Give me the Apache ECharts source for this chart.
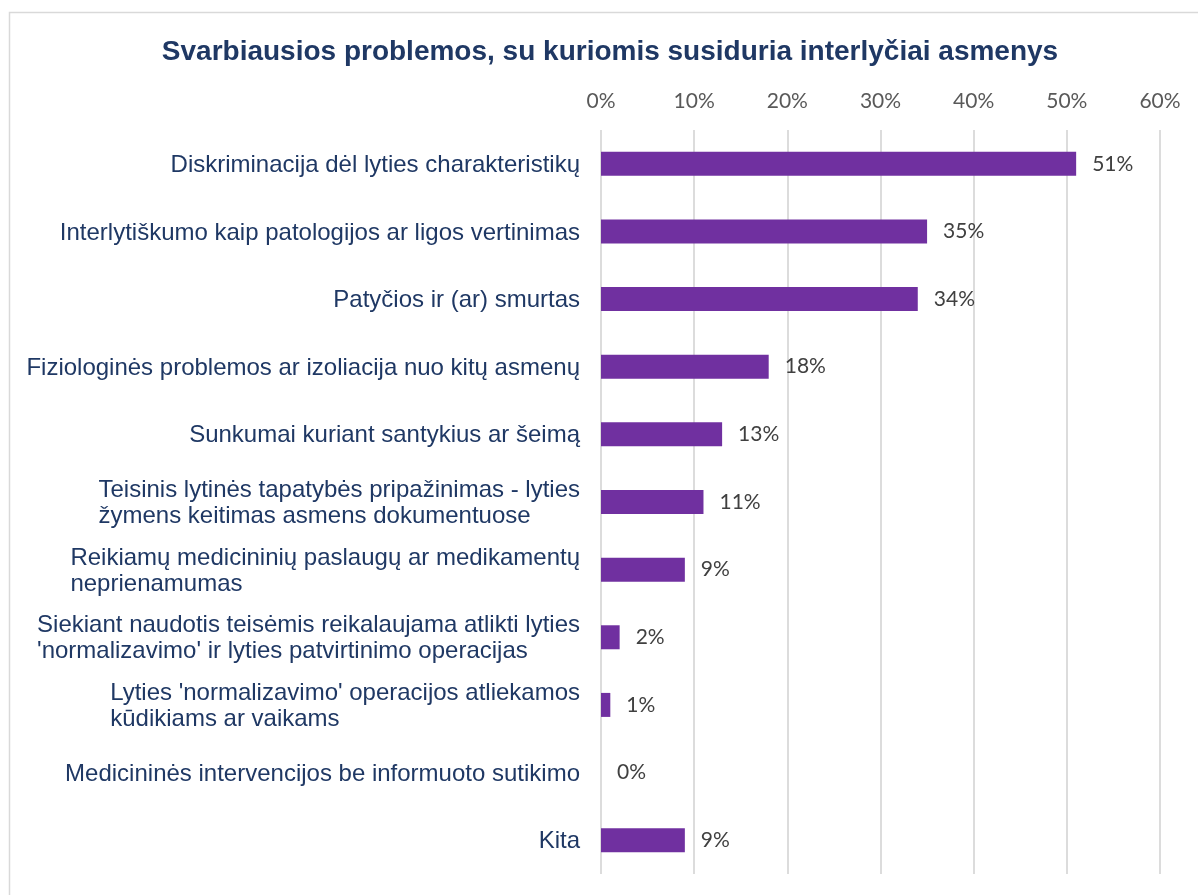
<!DOCTYPE html>
<html>
<head>
<meta charset="utf-8">
<script src="https://cdn.jsdelivr.net/npm/echarts@6/dist/echarts.min.js"></script>
<style>
  html, body { margin: 0; padding: 0; background: #fff; }
  #main { width: 1198px; height: 895px; }
</style>
</head>
<body>
<div id="main"></div>
<script>
// duomenys
var categories = [
    'Diskriminacija dėl lyties charakteristikų',
    'Interlytiškumo kaip patologijos ar ligos vertinimas',
    'Patyčios ir (ar) smurtas',
    'Fiziologinės problemos ar izoliacija nuo kitų asmenų',
    'Sunkumai kuriant santykius ar šeimą',
    'Teisinis lytinės tapatybės pripažinimas - lyties\nžymens keitimas asmens dokumentuose',
    'Reikiamų medicininių paslaugų ar medikamentų\nneprienamumas',
    'Siekiant naudotis teisėmis reikalaujama atlikti lyties\n\'normalizavimo\' ir lyties patvirtinimo operacijas',
    'Lyties \'normalizavimo\' operacijos atliekamos\nkūdikiams ar vaikams',
    'Medicininės intervencijos be informuoto sutikimo',
    'Kita'
];
var values = [51, 35, 34, 18, 13, 11, 9, 2, 1, 0, 9];
var xTicks = [0, 10, 20, 30, 40, 50, 60];

var myChart = echarts.init(document.getElementById('main'));

var option = {
    backgroundColor: '#fff',
    animation: false,
    title: {
        text: 'Svarbiausios problemos, su kuriomis susiduria interlyčiai asmenys',
        left: 605,
        textAlign: 'center',
        top: 33,
        textStyle: {
            color: '#1F3864',
            fontFamily: 'Liberation Sans',
            fontWeight: 'bold',
            fontSize: 28
        }
    },
    // rėmelis aplink
    graphic: [{
        type: 'rect',
        shape: { x: 9.5, y: 12.5, width: 1300, height: 1000 },
        style: { fill: 'none', stroke: '#d9d9d9', lineWidth: 1.5 },
        silent: true
    }],
    grid: {
        left: 601,
        right: 38,
        top: 130,
        bottom: 21
    },
    xAxis: {
        type: 'value',
        position: 'top',
        min: xTicks[0],
        max: xTicks[xTicks.length - 1],
        interval: 10,
        axisLine: { show: false },
        axisTick: { show: false },
        splitLine: {
            show: true,
            lineStyle: { color: '#dcdcdc', width: 2 }
        },
        axisLabel: {
            color: '#595959',
            fontFamily: 'Lato',
            fontSize: 21,
            margin: 18,
            formatter: '{value}%'
        }
    },
    yAxis: {
        type: 'category',
        inverse: true,
        data: categories,
        axisLine: { show: false },
        axisTick: { show: false },
        axisLabel: {
            margin: 21,
            color: '#1F3864',
            fontFamily: 'Liberation Sans',
            fontSize: 24,
            align: 'right',
            formatter: function (v) {
                return v.split('\n').map(function (s) { return '{a|' + s + '}'; }).join('\n');
            },
            rich: {
                a: {
                    align: 'left',
                    color: '#1F3864',
                    fontFamily: 'Liberation Sans',
                    fontSize: 24,
                    lineHeight: 26,
                    padding: [3, 0, 0, 0]
                }
            }
        }
    },
    series: [{
        name: 'Problemos',
        type: 'bar',
        data: values,
        barWidth: 24,
        itemStyle: {
            color: '#7030A0'
        },
        label: {
            show: true,
            position: 'right',
            distance: 16,
            color: '#404040',
            fontFamily: 'Lato',
            fontSize: 21,
            formatter: '{c}%'
        }
    }]
};

myChart.setOption(option);
</script>
</body>
</html>
